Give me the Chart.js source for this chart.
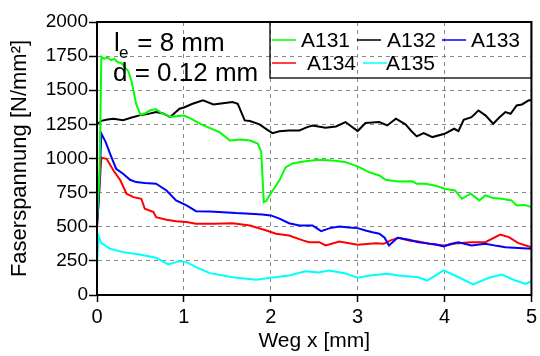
<!DOCTYPE html>
<html>
<head>
<meta charset="utf-8">
<script src="https://cdn.jsdelivr.net/npm/chart.js@4"></script>
<style>
  html, body { margin: 0; padding: 0; background: #fff; }
</style>
</head>
<body>
<canvas id="myChart" width="540" height="356"></canvas>
<script>
// series data (x in mm, y in N/mm²)
const xA131 = [0, 0.03, 0.05, 0.08, 0.12, 0.16, 0.2, 0.24, 0.28, 0.32, 0.36, 0.4, 0.45, 0.5, 0.55, 0.62, 0.68, 0.75, 0.84, 1.0, 1.07, 1.2, 1.41, 1.53, 1.65, 1.76, 1.85, 1.89, 1.92, 1.95, 2.0, 2.1, 2.17, 2.25, 2.33, 2.42, 2.55, 2.71, 2.85, 3.0, 3.13, 3.25, 3.32, 3.47, 3.63, 3.68, 3.78, 3.9, 4.0, 4.12, 4.2, 4.3, 4.4, 4.47, 4.56, 4.66, 4.77, 4.83, 4.92, 5.0];
const yA131 = [550, 900, 1745, 1730, 1740, 1720, 1730, 1705, 1700, 1670, 1640, 1560, 1400, 1320, 1330, 1355, 1360, 1330, 1305, 1315, 1296, 1250, 1193, 1132, 1140, 1132, 1110, 1050, 680, 690, 744, 840, 935, 964, 973, 981, 990, 986, 975, 942, 900, 876, 844, 832, 834, 815, 815, 800, 778, 766, 705, 742, 693, 729, 710, 705, 693, 656, 660, 644];

const xA132 = [0, 0.02, 0.05, 0.12, 0.19, 0.3, 0.4, 0.49, 0.58, 0.68, 0.76, 0.84, 0.95, 1.0, 1.1, 1.22, 1.34, 1.45, 1.56, 1.62, 1.7, 1.76, 1.87, 1.97, 2.02, 2.1, 2.21, 2.33, 2.42, 2.48, 2.63, 2.75, 2.86, 3.0, 3.09, 3.25, 3.34, 3.44, 3.55, 3.62, 3.68, 3.76, 3.86, 4.0, 4.11, 4.16, 4.22, 4.31, 4.39, 4.47, 4.56, 4.63, 4.7, 4.76, 4.83, 4.89, 4.97, 5.0];
const yA132 = [1260, 1260, 1276, 1285, 1292, 1280, 1300, 1316, 1325, 1340, 1330, 1303, 1365, 1374, 1401, 1426, 1396, 1405, 1413, 1401, 1279, 1274, 1250, 1206, 1186, 1200, 1206, 1206, 1230, 1242, 1225, 1235, 1267, 1201, 1260, 1267, 1242, 1292, 1250, 1200, 1162, 1186, 1157, 1181, 1218, 1201, 1284, 1303, 1352, 1316, 1255, 1300, 1340, 1328, 1389, 1396, 1426, 1426];

const xA133 = [0, 0.02, 0.05, 0.1, 0.15, 0.22, 0.3, 0.38, 0.45, 0.55, 0.68, 0.8, 0.91, 1.03, 1.14, 1.3, 1.45, 1.6, 1.76, 1.9, 2.0, 2.1, 2.21, 2.33, 2.48, 2.58, 2.68, 2.79, 2.9, 3.0, 3.09, 3.17, 3.25, 3.31, 3.36, 3.46, 3.59, 3.7, 3.78, 3.9, 3.99, 4.08, 4.16, 4.31, 4.47, 4.6, 4.7, 4.85, 5.0];
const yA133 = [500, 700, 1182, 1120, 1035, 925, 888, 844, 827, 820, 815, 766, 693, 656, 614, 612, 607, 600, 595, 590, 583, 560, 526, 509, 509, 468, 490, 502, 495, 490, 473, 460, 449, 420, 363, 419, 405, 387, 380, 370, 356, 375, 387, 363, 375, 360, 350, 345, 339];

const xA134 = [0, 0.03, 0.05, 0.11, 0.19, 0.27, 0.34, 0.42, 0.51, 0.55, 0.65, 0.68, 0.8, 0.91, 1.03, 1.14, 1.34, 1.56, 1.76, 1.95, 2.06, 2.21, 2.37, 2.44, 2.56, 2.63, 2.79, 3.0, 3.21, 3.3, 3.38, 3.47, 3.59, 3.7, 3.82, 3.99, 4.16, 4.3, 4.47, 4.64, 4.74, 4.85, 5.0];
const yA134 = [500, 800, 1006, 998, 912, 839, 742, 717, 705, 632, 607, 570, 551, 541, 534, 522, 522, 526, 509, 473, 449, 436, 400, 387, 387, 363, 392, 368, 380, 375, 400, 419, 400, 392, 375, 363, 380, 387, 387, 443, 424, 380, 350];

const xA135 = [0, 0.015, 0.05, 0.15, 0.3, 0.49, 0.68, 0.82, 0.95, 1.03, 1.14, 1.3, 1.56, 1.83, 2.0, 2.21, 2.4, 2.55, 2.67, 2.85, 3.0, 3.14, 3.34, 3.47, 3.7, 3.8, 3.99, 4.12, 4.33, 4.51, 4.66, 4.8, 4.93, 5.0];
const yA135 = [200, 436, 380, 339, 314, 297, 273, 224, 248, 241, 204, 160, 130, 111, 126, 143, 174, 165, 180, 160, 126, 143, 155, 143, 130, 106, 180, 143, 77, 126, 150, 110, 82, 101];

const labels = ["A131", "A132", "A133", "A134", "A135"];
const colors = ["#00ff00", "#000000", "#0000ff", "#ff0000", "#00ffff"];
const xTicks = [0, 1, 2, 3, 4, 5];
const yTicks = [0, 250, 500, 750, 1000, 1250, 1500, 1750, 2000];

function pts(xs, ys) {
  return xs.map((x, i) => ({ x: x, y: ys[i] }));
}

const series = [pts(xA131, yA131), pts(xA132, yA132), pts(xA133, yA133), pts(xA134, yA134), pts(xA135, yA135)];

//frame, legend box and the text in the corner
const extras = {
  id: "extras",
  afterDraw(chart) {
    const c = chart.ctx;
    const a = chart.chartArea;
    c.save();
    c.strokeStyle = "#000";
    c.lineWidth = 2;
    c.strokeRect(a.left, a.top, a.right - a.left, a.bottom - a.top);

    // legend box
    c.lineWidth = 1.3;
    c.strokeRect(270, a.top, a.right - 270, 56);
    const slots = [
      [272, 301, 40], [357, 387, 40], [442, 471, 40],
      [272, 307, 63], [363, 386, 63],
    ];
    c.font = "21px Arial";
    c.textBaseline = "middle";
    slots.forEach((s, i) => {
      c.strokeStyle = colors[i];
      c.lineWidth = 1.5;
      c.beginPath();
      c.moveTo(s[0], s[2]);
      c.lineTo(s[0] + 24, s[2]);
      c.stroke();
      c.fillStyle = "#000";
      c.fillText(labels[i], s[1], s[2] + 1);
    });

    // l_e and d
    c.textBaseline = "alphabetic";
    c.fillStyle = "#000";
    c.font = "26px Arial";
    c.fillText("l", 114, 51);
    c.font = "17px Arial";
    c.fillText("e", 119, 58);
    c.font = "26px Arial";
    c.fillText(" = 8 mm", 130, 51);
    c.fillText("d = 0.12 mm", 113, 81);
    c.restore();
  },
};

const ctx = document.getElementById("myChart").getContext("2d");
const myChart = new Chart(ctx, {
  type: "line",
  data: {
    datasets: series.map((d, i) => ({
      label: labels[i],
      data: d,
      borderColor: colors[i],
      borderWidth: 2,
      pointRadius: 0,
      tension: 0,
      fill: false,
    })),
  },
  options: {
    responsive: false,
    animation: false,
    events: [],
    layout: { padding: { left: 0, top: 22, right: 7, bottom: 0 } },
    plugins: { legend: { display: false }, tooltip: { enabled: false } },
    scales: {
      x: {
        type: "linear",
        min: 0,
        max: 5,
        afterBuildTicks: (s) => { s.ticks = xTicks.map((v) => ({ value: v })); },
        afterFit: (s) => { s.height = 61; },
        ticks: { color: "#000", font: { family: "Arial", size: 20 }, padding: 3, callback: (v) => String(v) },
        grid: { color: "#888", lineWidth: 1, tickColor: "#000", tickLength: 7, tickWidth: 1.5 },
        border: { color: "#000", width: 2, dash: [4, 4] },
        title: { display: true, text: "Weg x [mm]", color: "#000", font: { family: "Arial", size: 21 }, padding: { top: 0, bottom: 2 } },
      },
      y: {
        min: 0,
        max: 2000,
        afterBuildTicks: (s) => { s.ticks = yTicks.map((v) => ({ value: v })); },
        afterFit: (s) => { s.width = 97; },
        ticks: { color: "#000", font: { family: "Arial", size: 19 }, padding: 1, callback: (v) => String(v) },
        grid: { color: "#888", lineWidth: 1, tickColor: "#000", tickLength: 8, tickWidth: 1.5 },
        border: { color: "#000", width: 2, dash: [4, 4] },
        title: { display: true, text: "Faserspannung [N/mm²]", color: "#000", font: { family: "Arial", size: 22 }, padding: { top: 7, bottom: 0 } },
      },
    },
  },
  plugins: [extras],
});
</script>
</body>
</html>
